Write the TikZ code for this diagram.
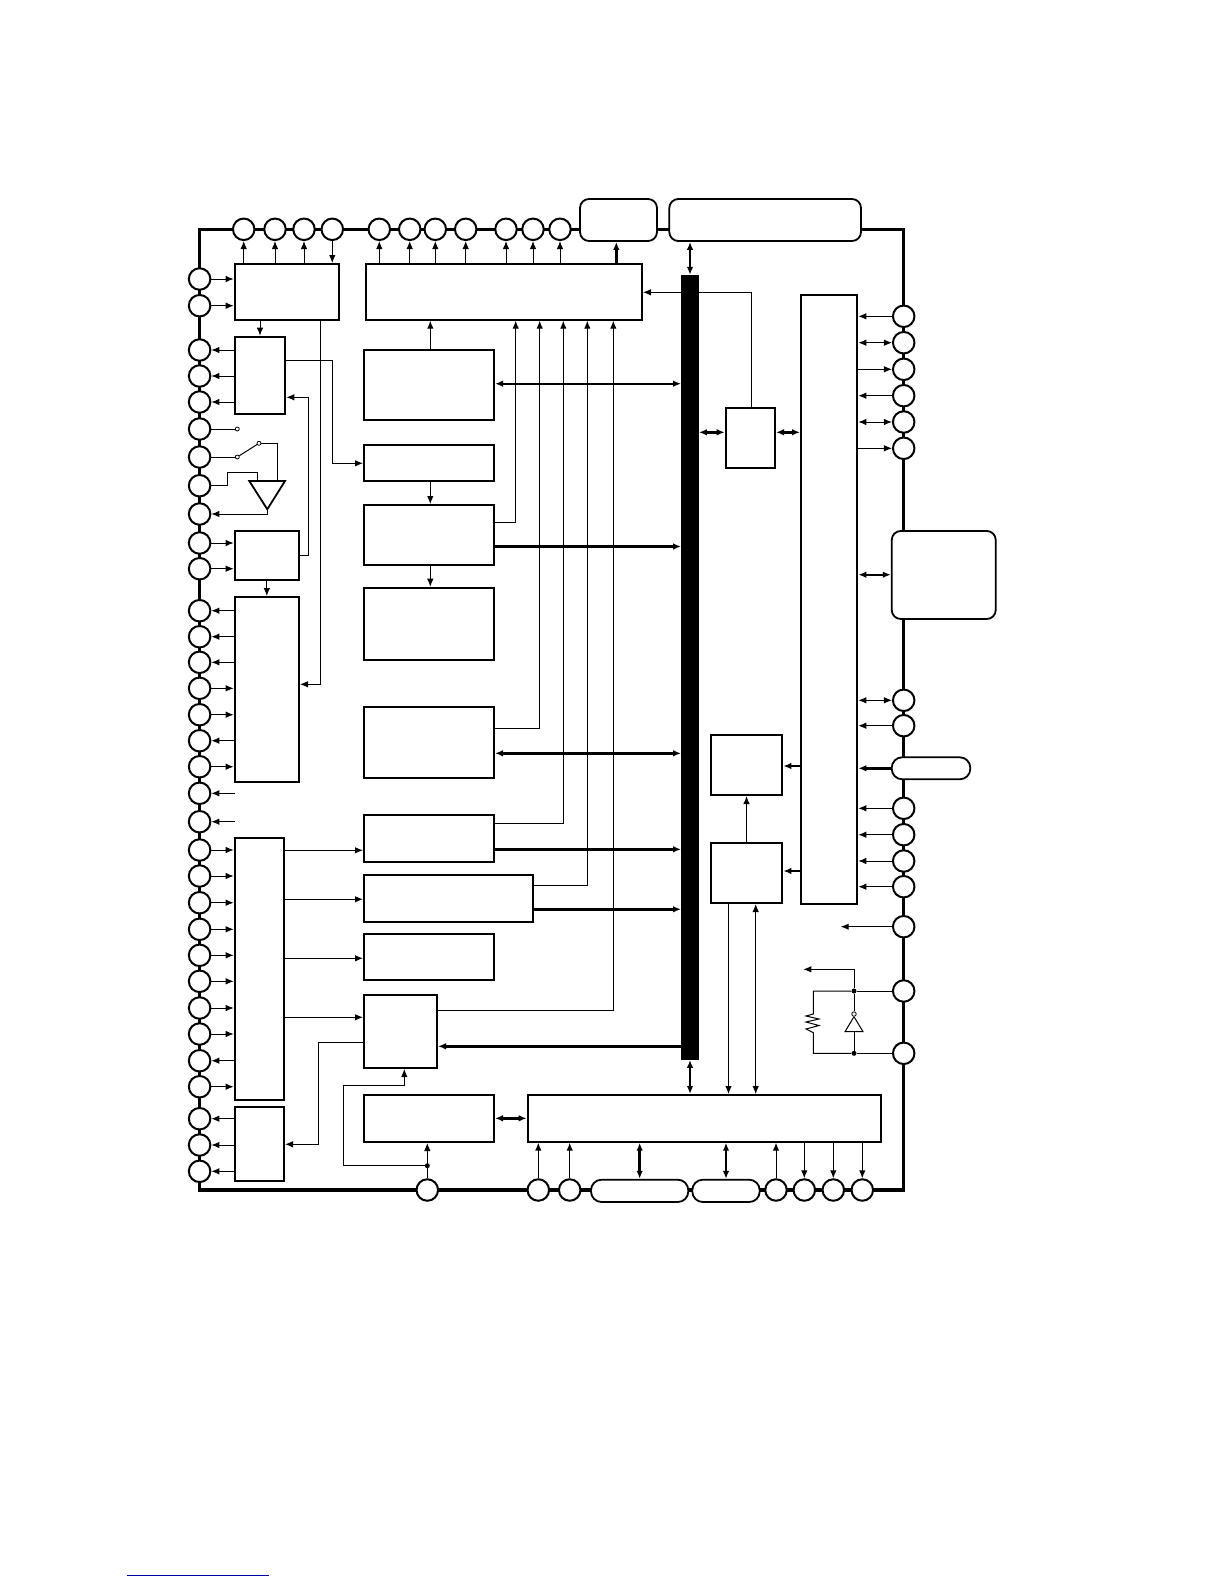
\documentclass[tikz,border=0pt]{standalone}
\usepackage{tikz}
\usetikzlibrary{arrows.meta, positioning}
\tikzset{
    pin/.style={circle, minimum size=21.5pt, inner sep=0pt, draw=black, line width=2pt, fill=white},
    block/.style={rectangle, inner sep=0pt, draw=black, line width=2pt, fill=white},
    roundbox/.style={rectangle, rounded corners=9pt, inner sep=0pt, draw=black, line width=1.8pt, fill=white},
    pill/.style={rectangle, rounded corners=10.5pt, inner sep=0pt, draw=black, line width=1.8pt, fill=white},
    contact/.style={circle, minimum size=4pt, inner sep=0pt, draw=black, line width=0.8pt, fill=white},
    junction/.style={circle, minimum size=5pt, inner sep=0pt, fill=black},
    wire/.style={line width=1pt},
    arrow/.style={line width=1pt,-{Latex[length=8pt,width=6.5pt]}},
    biarrow/.style={line width=1pt,{Latex[length=8pt,width=6.5pt]}-{Latex[length=8pt,width=6.5pt]}},
    busarrow/.style={line width=2.8pt,-{Latex[length=8pt,width=6.5pt]}},
    busbiarrow/.style={line width=2.8pt,{Latex[length=8pt,width=6.5pt]}-{Latex[length=8pt,width=6.5pt]}},
    chipframe/.style={line width=3.2pt}
}
\begin{document}
\begin{tikzpicture}[x=1pt, y=-1pt]
    \useasboundingbox (0,0) rectangle (1224,1584);

    % chip outline
    \draw [chipframe] (199.6,229.3) rectangle (903.7,1190);

    % left column
    \node (ltop) [block, minimum width=104.3pt, minimum height=55.7pt] at (286.85,291.85) {};
    \node (lmux) [block, minimum width=50.6pt, minimum height=77.3pt] at (260,375.35) {};
    \node (lsmall) [block, minimum width=64.3pt, minimum height=48.7pt] at (266.85,555.35) {};
    \node (lport) [block, minimum width=64.3pt, minimum height=184.7pt] at (266.85,689.35) {};
    \node (lbig) [block, minimum width=49.3pt, minimum height=262.3pt] at (259.35,968.85) {};
    \node (lout) [block, minimum width=49.3pt, minimum height=74.3pt] at (259.35,1143.85) {};

    % middle column
    \node (mtop) [block, minimum width=276pt, minimum height=55.7pt] at (504,291.85) {};
    \node (m1) [block, minimum width=130pt, minimum height=70pt] at (429,385) {};
    \node (m2) [block, minimum width=130pt, minimum height=36.3pt] at (429,463.15) {};
    \node (m3) [block, minimum width=130pt, minimum height=60pt] at (429,535) {};
    \node (m4) [block, minimum width=130pt, minimum height=72.3pt] at (429,623.85) {};
    \node (m5) [block, minimum width=130pt, minimum height=71pt] at (429,742.5) {};
    \node (m6) [block, minimum width=130pt, minimum height=47pt] at (429,838.5) {};
    \node (m7) [block, minimum width=169pt, minimum height=47pt] at (448.5,898.5) {};
    \node (m8) [block, minimum width=130pt, minimum height=46pt] at (429,957) {};
    \node (m9) [block, minimum width=73pt, minimum height=73pt] at (400.5,1031.5) {};
    \node (m10) [block, minimum width=130pt, minimum height=47pt] at (429,1118.5) {};
    \node (wide) [block, minimum width=353.3pt, minimum height=46.7pt] at (704.35,1118.35) {};

    % right column
    \node (cbox) [block, minimum width=49.3pt, minimum height=60.6pt] at (750.35,438) {};
    \node (rtall) [block, minimum width=56.3pt, minimum height=608.7pt] at (829.15,599.35) {};
    \node (ra) [block, minimum width=71.6pt, minimum height=60pt] at (746.5,765) {};
    \node (rb) [block, minimum width=71.6pt, minimum height=60.3pt] at (746.5,872.85) {};

    % rounded pads on the outline
    \node (topa) [roundbox, minimum width=77pt, minimum height=42pt] at (618.5,220) {};
    \node (topb) [roundbox, minimum width=191.7pt, minimum height=42pt] at (765.15,220) {};
    \node (rside) [roundbox, minimum width=104pt, minimum height=88pt] at (943.75,575) {};
    \node (rpill) [pill, minimum width=78.6pt, minimum height=22pt] at (931,768.3) {};
    \node (bpa) [pill, minimum width=97.3pt, minimum height=22.3pt] at (639.65,1190.85) {};
    \node (bpb) [pill, minimum width=67.4pt, minimum height=22.3pt] at (726,1190.85) {};

    % top pins
    \node (pt1) [pin] at (243.7,229.3) {};
    \node (pt2) [pin] at (275,229.3) {};
    \node (pt3) [pin] at (304,229.3) {};
    \node (pt4) [pin] at (332.3,229.3) {};
    \node (pt5) [pin] at (379.3,229.3) {};
    \node (pt6) [pin] at (409.7,229.3) {};
    \node (pt7) [pin] at (435.3,229.3) {};
    \node (pt8) [pin] at (465.7,229.3) {};
    \node (pt9) [pin] at (506,229.3) {};
    \node (pt10) [pin] at (533,229.3) {};
    \node (pt11) [pin] at (560,229.3) {};

    % left pins
    \node (pl1) [pin] at (199.6,279) {};
    \node (pl2) [pin] at (199.6,305.7) {};
    \node (pl3) [pin] at (199.6,350) {};
    \node (pl4) [pin] at (199.6,376) {};
    \node (pl5) [pin] at (199.6,402) {};
    \node (pl6) [pin] at (199.6,429) {};
    \node (pl7) [pin] at (199.6,457) {};
    \node (pl8) [pin] at (199.6,485.7) {};
    \node (pl9) [pin] at (199.6,514) {};
    \node (pl10) [pin] at (199.6,543) {};
    \node (pl11) [pin] at (199.6,568.7) {};
    \node (pl12) [pin] at (199.6,610.7) {};
    \node (pl13) [pin] at (199.6,636.7) {};
    \node (pl14) [pin] at (199.6,662.3) {};
    \node (pl15) [pin] at (199.6,688.3) {};
    \node (pl16) [pin] at (199.6,714.7) {};
    \node (pl17) [pin] at (199.6,740.7) {};
    \node (pl18) [pin] at (199.6,766.7) {};
    \node (pl19) [pin] at (199.6,793.3) {};
    \node (pl20) [pin] at (199.6,821.7) {};
    \node (pl21) [pin] at (199.6,850) {};
    \node (pl22) [pin] at (199.6,876) {};
    \node (pl23) [pin] at (199.6,902.7) {};
    \node (pl24) [pin] at (199.6,929.3) {};
    \node (pl25) [pin] at (199.6,955.3) {};
    \node (pl26) [pin] at (199.6,981.3) {};
    \node (pl27) [pin] at (199.6,1008) {};
    \node (pl28) [pin] at (199.6,1034) {};
    \node (pl29) [pin] at (199.6,1060.7) {};
    \node (pl30) [pin] at (199.6,1086.7) {};
    \node (pl31) [pin] at (199.6,1118.7) {};
    \node (pl32) [pin] at (199.6,1145) {};
    \node (pl33) [pin] at (199.6,1171.3) {};

    % right pins
    \node (pr1) [pin] at (903.7,316.3) {};
    \node (pr2) [pin] at (903.7,342.7) {};
    \node (pr3) [pin] at (903.7,369.3) {};
    \node (pr4) [pin] at (903.7,395.7) {};
    \node (pr5) [pin] at (903.7,422) {};
    \node (pr6) [pin] at (903.7,448.3) {};
    \node (pr7) [pin] at (903.7,700.3) {};
    \node (pr8) [pin] at (903.7,725.7) {};
    \node (pr9) [pin] at (903.7,808.3) {};
    \node (pr10) [pin] at (903.7,834.7) {};
    \node (pr11) [pin] at (903.7,861) {};
    \node (pr12) [pin] at (903.7,886.7) {};
    \node (pr13) [pin] at (903.7,926.7) {};
    \node (pr14) [pin] at (903.7,991) {};
    \node (pr15) [pin] at (903.7,1053.3) {};

    % bottom pins
    \node (pb1) [pin] at (427.3,1190) {};
    \node (pb2) [pin] at (538.3,1190) {};
    \node (pb3) [pin] at (569.7,1190) {};
    \node (pb4) [pin] at (776,1190) {};
    \node (pb5) [pin] at (804.3,1190) {};
    \node (pb6) [pin] at (833.3,1190) {};
    \node (pb7) [pin] at (862.3,1190) {};

    % top pins to blocks
    \draw [arrow] (pt1 |- ltop.north) -- (pt1);
    \draw [arrow] (pt2 |- ltop.north) -- (pt2);
    \draw [arrow] (pt3 |- ltop.north) -- (pt3);
    \draw [arrow] (pt4) -- (pt4 |- ltop.north);
    \draw [arrow] (pt5 |- mtop.north) -- (pt5);
    \draw [arrow] (pt6 |- mtop.north) -- (pt6);
    \draw [arrow] (pt7 |- mtop.north) -- (pt7);
    \draw [arrow] (pt8 |- mtop.north) -- (pt8);
    \draw [arrow] (pt9 |- mtop.north) -- (pt9);
    \draw [arrow] (pt10 |- mtop.north) -- (pt10);
    \draw [arrow] (pt11 |- mtop.north) -- (pt11);
    \draw [busarrow] (616.3,0 |- mtop.north) -- (616.3,0 |- topa.south);

    % left pins to blocks
    \draw [arrow] (pl1) -- (pl1 -| ltop.west);
    \draw [arrow] (pl2) -- (pl2 -| ltop.west);
    \draw [arrow] (pl3 -| lmux.west) -- (pl3);
    \draw [arrow] (pl4 -| lmux.west) -- (pl4);
    \draw [arrow] (pl5 -| lmux.west) -- (pl5);
    \draw [arrow] (pl10) -- (pl10 -| lsmall.west);
    \draw [arrow] (pl11) -- (pl11 -| lsmall.west);
    \draw [arrow] (pl12 -| lport.west) -- (pl12);
    \draw [arrow] (pl13 -| lport.west) -- (pl13);
    \draw [arrow] (pl14 -| lport.west) -- (pl14);
    \draw [arrow] (pl15) -- (pl15 -| lport.west);
    \draw [arrow] (pl16) -- (pl16 -| lport.west);
    \draw [arrow] (pl17 -| lport.west) -- (pl17);
    \draw [arrow] (pl18) -- (pl18 -| lport.west);
    \coordinate (free1) at (234.7,793.3);
    \coordinate (free2) at (234.7,821.7);
    \draw [arrow] (free1) -- (pl19);
    \draw [arrow] (free2) -- (pl20);
    \draw [arrow] (pl21) -- (pl21 -| lbig.west);
    \draw [arrow] (pl22) -- (pl22 -| lbig.west);
    \draw [arrow] (pl23) -- (pl23 -| lbig.west);
    \draw [arrow] (pl24) -- (pl24 -| lbig.west);
    \draw [arrow] (pl25) -- (pl25 -| lbig.west);
    \draw [arrow] (pl26) -- (pl26 -| lbig.west);
    \draw [arrow] (pl27) -- (pl27 -| lbig.west);
    \draw [arrow] (pl28) -- (pl28 -| lbig.west);
    \draw [arrow] (pl29 -| lbig.west) -- (pl29);
    \draw [arrow] (pl30) -- (pl30 -| lbig.west);
    \draw [arrow] (pl31 -| lout.west) -- (pl31);
    \draw [arrow] (pl32 -| lout.west) -- (pl32);
    \draw [arrow] (pl33 -| lout.west) -- (pl33);

    % switch and buffer
    \node (sw1) [contact] at (237.3,429) {};
    \node (sw2) [contact] at (237.3,457) {};
    \node (sw3) [contact] at (259,443.3) {};
    \coordinate (bufl) at (249.3,481);
    \coordinate (bufr) at (285,481);
    \coordinate (buftip) at (267.3,509.3);
    \draw [line width=1.8pt, line join=miter] (bufl) -- (bufr) -- (buftip) -- cycle;
    \draw [wire] (pl6) -- (sw1);
    \draw [wire] (pl7) -- (sw2);
    \draw [wire] (sw2) -- (sw3);
    \draw [wire] (sw3) -| (277.7,481);
    \draw [wire] (pl8) -| (227.3,472.7) -| (257.7,481);
    \draw [arrow] (buftip) |- (pl9);

    % left column links
    \draw [arrow] (260,0 |- ltop.south) -- (260,0 |- lmux.north);
    \draw [arrow] (lsmall.south) -- (lport.north);
    \draw [arrow] (lsmall.east |- 0,555.3) -| (308.3,397.3) -- (lmux.east |- 0,397.3);
    \draw [arrow] (320.3,0 |- ltop.south) |- (lport.east |- 0,684.3);
    \draw [arrow] (lmux.east |- 0,360.3) -| (332.7,463.3) -- (m2.west |- 0,463.3);
    \draw [arrow] (lbig.east |- 0,850.3) -- (m6.west |- 0,850.3);
    \draw [arrow] (lbig.east |- 0,899.3) -- (m7.west |- 0,899.3);
    \draw [arrow] (lbig.east |- 0,958.3) -- (m8.west |- 0,958.3);
    \draw [arrow] (lbig.east |- 0,1017.3) -- (m9.west |- 0,1017.3);
    \draw [arrow] (m9.west |- 0,1042.7) -| (318.3,1144.3) -- (lout.east |- 0,1144.3);

    % middle column links
    \draw [arrow] (430.3,0 |- m1.north) -- (430.3,0 |- mtop.south);
    \draw [arrow] (430.3,0 |- m2.south) -- (430.3,0 |- m3.north);
    \draw [arrow] (430.3,0 |- m3.south) -- (430.3,0 |- m4.north);
    \draw [arrow] (m3.east |- 0,522.7) -| (515.7,0 |- mtop.south);
    \draw [arrow] (m5.east |- 0,728.3) -| (539.7,0 |- mtop.south);
    \draw [arrow] (m6.east |- 0,823.7) -| (563.3,0 |- mtop.south);
    \draw [arrow] (m7.east |- 0,885.7) -| (587.3,0 |- mtop.south);
    \draw [arrow] (m9.east |- 0,1010.3) -| (613.3,0 |- mtop.south);
    \draw [arrow] (cbox.north -| 751.3,0) |- (mtop.east |- 0,292.3);

    % bottom pin and junction
    \node (j1) [junction] at (427.3,1165.7) {};
    \draw [arrow] (pb1) -- (pb1 |- m10.south);
    \draw [arrow] (j1) -| (343.3,1085.3) -| (404.3,0 |- m9.south);
    \draw [busbiarrow] (m10.east |- 0,1118.3) -- (wide.west |- 0,1118.3);

    % bus
    \node (bus) [rectangle, inner sep=0pt, fill=black, minimum width=17.4pt, minimum height=784.7pt] at (690,667.35) {};
    \draw [busbiarrow] (bus.north) -- (topb.south -| bus.north);
    \draw [busbiarrow] (bus.south) -- (wide.north -| bus.south);
    \draw [biarrow, line width=1.8pt] (m1.east |- 0,383.7) -- (bus.west |- 0,383.7);
    \draw [busarrow] (m3.east |- 0,546.5) -- (bus.west |- 0,546.5);
    \draw [busbiarrow] (m5.east |- 0,753.3) -- (bus.west |- 0,753.3);
    \draw [busarrow] (m6.east |- 0,849.3) -- (bus.west |- 0,849.3);
    \draw [busarrow] (m7.east |- 0,909.3) -- (bus.west |- 0,909.3);
    \draw [busarrow] (bus.west |- 0,1046.3) -- (m9.east |- 0,1046.3);
    \draw [busbiarrow] (bus.east |- 0,432.3) -- (cbox.west |- 0,432.3);
    \draw [busbiarrow] (cbox.east |- 0,432.3) -- (rtall.west |- 0,432.3);

    % right pins to tall block
    \draw [arrow] (pr1) -- (pr1 -| rtall.east);
    \draw [biarrow] (pr2) -- (pr2 -| rtall.east);
    \draw [arrow] (pr3 -| rtall.east) -- (pr3);
    \draw [arrow] (pr4) -- (pr4 -| rtall.east);
    \draw [biarrow] (pr5) -- (pr5 -| rtall.east);
    \draw [arrow] (pr6 -| rtall.east) -- (pr6);
    \draw [biarrow, line width=1.8pt] (rside.west |- 0,574.7) -- (rtall.east |- 0,574.7);
    \draw [biarrow] (pr7) -- (pr7 -| rtall.east);
    \draw [arrow] (pr8) -- (pr8 -| rtall.east);
    \draw [busarrow] (rpill.west) -- (rpill.west -| rtall.east);
    \draw [arrow] (pr9) -- (pr9 -| rtall.east);
    \draw [arrow] (pr10) -- (pr10 -| rtall.east);
    \draw [arrow] (pr11) -- (pr11 -| rtall.east);
    \draw [arrow] (pr12) -- (pr12 -| rtall.east);
    \coordinate (free3) at (840.7,926.7);
    \draw [arrow] (pr13) -- (free3);

    % right blocks
    \draw [busarrow] (rtall.west |- 0,766) -- (ra.east |- 0,766);
    \draw [busarrow] (rtall.west |- 0,871) -- (rb.east |- 0,871);
    \draw [arrow] (rb.north) -- (ra.south);
    \draw [arrow] (728.5,0 |- rb.south) -- (728.5,0 |- wide.north);
    \draw [biarrow] (755.7,0 |- wide.north) -- (755.7,0 |- rb.south);

    % wide block to bottom pins
    \draw [arrow] (pb2) -- (pb2 |- wide.south);
    \draw [arrow] (pb3) -- (pb3 |- wide.south);
    \draw [busbiarrow] (bpa.north |- wide.south) -- (bpa.north);
    \draw [busbiarrow] (bpb.north |- wide.south) -- (bpb.north);
    \draw [arrow] (pb4) -- (pb4 |- wide.south);
    \draw [arrow] (pb5 |- wide.south) -- (pb5);
    \draw [arrow] (pb6 |- wide.south) -- (pb6);
    \draw [arrow] (pb7 |- wide.south) -- (pb7);

    % oscillator
    \node (j2) [junction] at (854,991) {};
    \node (j3) [junction] at (854,1053.3) {};
    \node (inv) [contact, minimum size=4.5pt] at (854,1014) {};
    \coordinate (free4) at (803.3,969.3);
    \draw [wire] (pr14) -- (j2);
    \draw [wire] (pr15) -- (j3);
    \draw [arrow] (j2) -- (854,969.3) -- (free4);
    \draw [wire] (j2) -- (inv);
    \draw [wire, line join=miter] (inv.south) -- (845,1031.7) -- (863,1031.7) -- (inv.south);
    \draw [wire] (854,1031.7) -- (j3);
    \draw [wire] (j2) -| (813.3,1014) -- (806,1016) -- (819,1019) -- (806,1022) -- (819,1025.5) -- (806,1029) -- (813.3,1032.7) |- (j3);

    % rule at the page foot
    \draw [line width=1pt, color={rgb,255:red,0;green,0;blue,170}] (127,1575.3) -- (269,1575.3);
\end{tikzpicture}
\end{document}
